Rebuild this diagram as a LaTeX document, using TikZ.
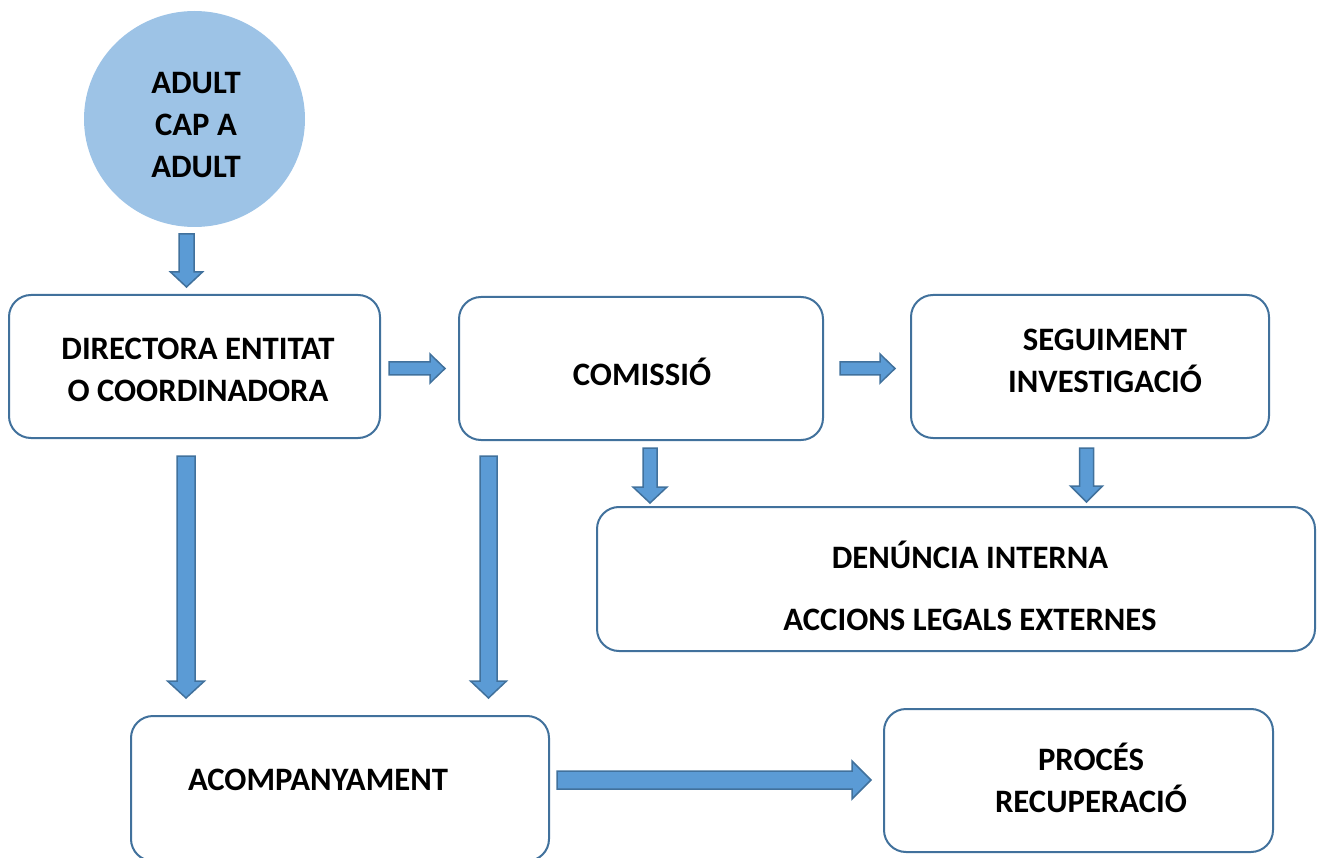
\documentclass[tikz,border=0pt]{standalone}
\usepackage{fontspec}
\setmainfont{Carlito}
\usetikzlibrary{calc,shapes.geometric}
\definecolor{boxline}{HTML}{41719C}
\definecolor{arrowfill}{HTML}{5B9BD5}
\definecolor{arrowline}{HTML}{41719C}
\definecolor{bubblefill}{HTML}{9DC3E6}

\begin{document}
\begin{tikzpicture}[%
  x=1pt,y=-1pt,
  every node/.style={font=\fontsize{32.7}{42}\selectfont\bfseries},
  bubble/.style={ellipse,fill=bubblefill,minimum width=221,minimum height=216,inner sep=0,outer sep=0},
  box/.style={rectangle,draw=boxline,line width=2,rounded corners=22,inner sep=0,outer sep=0},
  txt/.style={align=center,inner sep=0},
  barrow/.style={draw=arrowline,fill=arrowfill,line width=1.5,line join=miter},
  downblock/.style n args={3}{to path={let \p1=(\tikztostart), \p2=(\tikztotarget) in
    (\x1-#1,\y1) -- (\x1+#1,\y1) -- (\x1+#1,\y2+#3) -- (\x1+#2,\y2+#3) -- (\x1,\y2)
    -- (\x1-#2,\y2+#3) -- (\x1-#1,\y2+#3) -- cycle}},
  rightblock/.style n args={3}{to path={let \p1=(\tikztostart), \p2=(\tikztotarget) in
    (\x1,\y1-#1) -- (\x2-#3,\y1-#1) -- (\x2-#3,\y1-#2) -- (\x2,\y1)
    -- (\x2-#3,\y1+#2) -- (\x2-#3,\y1+#1) -- (\x1,\y1+#1) -- cycle}}]
    \useasboundingbox (0,0) rectangle (1320,858);
    % Start
    \node[bubble] (adult) at (194.5,119) {};
    \node[txt] (adult-txt) at (196,125.5) {ADULT\\CAP A\\ADULT};
    % First row
    \node[box,minimum width=371,minimum height=143] (dir) at (194.5,366.5) {};
    \node[txt] (dir-txt) at (198,369.5) {DIRECTORA ENTITAT\\O COORDINADORA};
    \node[box,minimum width=364,minimum height=143] (com) at (641,368.5) {};
    \node[txt] (com-txt) at (642,372) {COMISSIÓ};
    \node[box,minimum width=358,minimum height=143] (seg) at (1090,366.5) {};
    \node[txt] (seg-txt) at (1105,361) {SEGUIMENT\\INVESTIGACIÓ};
    % Second and third rows
    \node[box,minimum width=718,minimum height=144] (den) at (956,579) {};
    \node[txt] (den-txt) at (970,586) {DENÚNCIA INTERNA\\[20pt]ACCIONS LEGALS EXTERNES};
    \node[box,minimum width=418,minimum height=145] (acomp) at (340,788.5) {};
    \node[txt] (acomp-txt) at (318,780) {ACOMPANYAMENT};
    \node[box,minimum width=389,minimum height=143] (proc) at (1078.5,780.5) {};
    \node[txt] (proc-txt) at (1091,778) {PROCÉS\\RECUPERACIÓ};
    % Block arrows
    \draw[barrow,downblock={7.5pt}{16pt}{15pt}] ([xshift=-8,yshift=-7]adult.south) to ([xshift=-8,yshift=8]dir.north);
    \draw[barrow,rightblock={6.5pt}{14.5pt}{15pt}] ([xshift=9,yshift=-2]dir.east) to ([xshift=-14]com.west);
    \draw[barrow,rightblock={6.5pt}{14.5pt}{15pt}] ([xshift=17]com.east) to ([xshift=-16]seg.west);
    \draw[barrow,downblock={9pt}{18.5pt}{17pt}] ([xshift=-8.5,yshift=-18]dir.south) to ([xshift=-154,yshift=18]acomp.north);
    \draw[barrow,downblock={8.5pt}{18pt}{17pt}] ([xshift=-152.5,yshift=-16]com.south) to ([xshift=148.5,yshift=18]acomp.north);
    \draw[barrow,downblock={7pt}{17pt}{16pt}] ([xshift=9,yshift=-8]com.south) to ([xshift=-306,yshift=4]den.north);
    \draw[barrow,downblock={7pt}{16pt}{16pt}] ([xshift=-3.5,yshift=-10]seg.south) to ([xshift=130.5,yshift=5]den.north);
    \draw[barrow,rightblock={9pt}{19pt}{19pt}] ([xshift=8,yshift=8.5]acomp.east) to ([xshift=-13]proc.west);
\end{tikzpicture}
\end{document}
